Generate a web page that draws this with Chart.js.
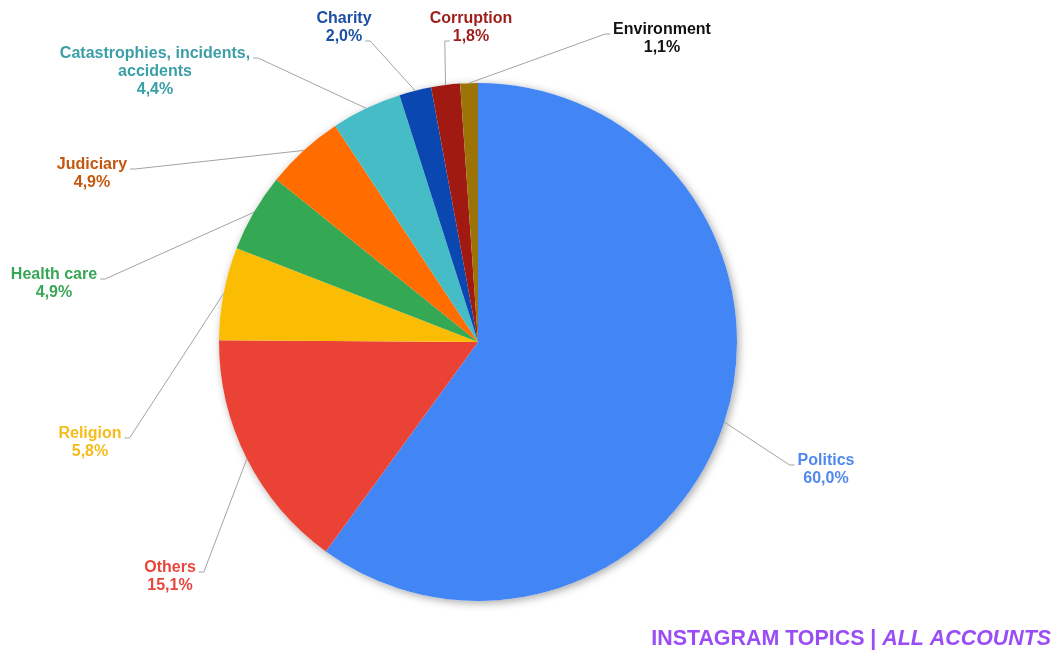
<!DOCTYPE html>
<html>
<head>
<meta charset="utf-8">
<title>Instagram topics</title>
<script src="https://cdn.jsdelivr.net/npm/chart.js@4.4.1/dist/chart.umd.min.js"></script>
<style>
  html, body { margin: 0; padding: 0; background: #fff; }
  #topics { display: block; }
</style>
</head>
<body>
<canvas id="topics" width="1057" height="650"></canvas>
<script>
// Topic shares (%), clockwise from 12 o'clock
var topics = ["Politics", "Others", "Religion", "Health care", "Judiciary",
    ["Catastrophies, incidents,", "accidents"], "Charity", "Corruption", "Environment"];
var shares = [60.0, 15.1, 5.8, 4.9, 4.9, 4.4, 2.0, 1.8, 1.1];

var sliceColors = ["#4285f4", "#ea4335", "#fbbc04", "#34a853", "#ff6d01",
    "#46bdc6", "#0b47b0", "#a01a12", "#9c7306"];
var textColors = ["#5089ee", "#e8463d", "#f5bd1a", "#38a755", "#c4570f",
    "#3a9fa6", "#1d4fa3", "#9e1d1a", "#111111"];

// label placement: [center x, first line y, line the leader attaches to]
var labelPos = [
    [826, 461, 0], [170, 568, 0], [90, 434, 0], [54, 275, 0], [92, 165, 0],
    [155, 54, 0], [344, 19, 1], [471, 19, 1], [662, 30, 0]
];

var FONT = "bold 16px 'Liberation Sans', Arial, sans-serif";
var LINE_H = 18;

function pct(v) {
    return v.toFixed(1).replace(".", ",") + "%";
}

// soft shadow under the whole pie
var pieShadow = {
    id: "pieShadow",
    beforeDatasetsDraw: function (chart) {
        var arc = chart.getDatasetMeta(0).data[0];
        var ctx = chart.ctx;
        ctx.save();
        ctx.shadowColor = "rgba(0,0,0,0.35)";
        ctx.shadowBlur = 8;
        ctx.shadowOffsetX = 2;
        ctx.shadowOffsetY = 2;
        ctx.fillStyle = "#fff";
        ctx.beginPath();
        ctx.arc(arc.x, arc.y, arc.outerRadius, 0, Math.PI * 2);
        ctx.fill();
        ctx.restore();
    }
};

// outside labels with leader lines
var outsideLabels = {
    id: "outsideLabels",
    afterDatasetsDraw: function (chart) {
        var ctx = chart.ctx;
        var meta = chart.getDatasetMeta(0);
        ctx.save();
        ctx.font = FONT;
        ctx.textAlign = "center";
        ctx.textBaseline = "middle";
        meta.data.forEach(function (arc, i) {
            var name = topics[i];
            var lines = (Array.isArray(name) ? name.slice() : [name]);
            lines.push(pct(shares[i]));
            var pos = labelPos[i];

            // point on the rim at the slice's mid angle
            var mid = (arc.startAngle + arc.endAngle) / 2;
            var px = arc.x + Math.cos(mid) * arc.outerRadius;
            var py = arc.y + Math.sin(mid) * arc.outerRadius;

            var ly = pos[1] + pos[2] * LINE_H + 4;
            var w = ctx.measureText(lines[pos[2]]).width;
            var left = px < pos[0];
            var ex = left ? pos[0] - w / 2 - 3 : pos[0] + w / 2 + 3;
            var kx = left ? ex - 5 : ex + 5;

            ctx.strokeStyle = "#a3a3a3";
            ctx.lineWidth = 1;
            ctx.beginPath();
            ctx.moveTo(ex, ly);
            ctx.lineTo(kx, ly);
            ctx.lineTo(px, py);
            ctx.stroke();

            ctx.fillStyle = textColors[i];
            lines.forEach(function (t, j) {
                ctx.fillText(t, pos[0], pos[1] + j * LINE_H);
            });
        });
        ctx.restore();
    }
};

// caption in the bottom right corner
var caption = {
    id: "caption",
    afterDraw: function (chart) {
        var ctx = chart.ctx;
        var a = "INSTAGRAM TOPICS | ";
        var b = "ALL ACCOUNTS";
        var size = "21.4px";
        ctx.save();
        ctx.fillStyle = "#9a4cf6";
        ctx.textBaseline = "alphabetic";
        ctx.textAlign = "left";
        ctx.font = "italic bold " + size + " 'Liberation Sans', Arial, sans-serif";
        var wb = ctx.measureText(b).width;
        ctx.font = "bold " + size + " 'Liberation Sans', Arial, sans-serif";
        var wa = ctx.measureText(a).width;
        var x = 1051 - wa - wb;
        ctx.fillText(a, x, 645);
        ctx.font = "italic bold " + size + " 'Liberation Sans', Arial, sans-serif";
        ctx.fillText(b, x + wa, 645);
        ctx.restore();
    }
};

var ctx = document.getElementById("topics").getContext("2d");
var topicsChart = new Chart(ctx, {
    type: "pie",
    data: {
        labels: topics,
        datasets: [{
            data: shares,
            backgroundColor: sliceColors,
            borderWidth: 0
        }]
    },
    options: {
        responsive: false,
        animation: false,
        devicePixelRatio: 1,
        layout: {
            padding: { left: 219, right: 320, top: 83, bottom: 49 }
        },
        plugins: {
            legend: { display: false },
            tooltip: { enabled: false }
        }
    },
    plugins: [pieShadow, outsideLabels, caption]
});
</script>
</body>
</html>
